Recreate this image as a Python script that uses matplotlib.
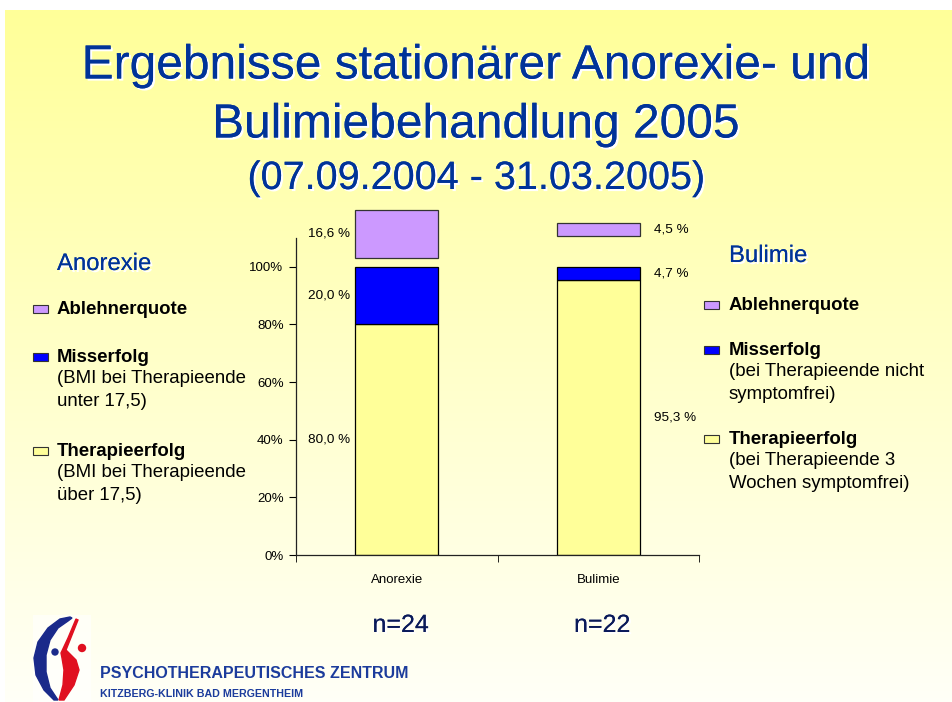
import numpy as np
import matplotlib.pyplot as plt
import matplotlib.patheffects as pe
from matplotlib.patches import Rectangle, Circle, Polygon

# Daten (Prozent)
categories = ['Anorexie', 'Bulimie']
erfolg = [80.0, 95.3]
misserfolg = [20.0, 4.7]
ablehner = [16.6, 4.5]
ablehner_gap = [3.2, 10.6]   # Abstand der Ablehnerquote über 100 %
n_counts = [24, 22]
yticks = [0, 20, 40, 60, 80, 100]

legend_names = ['Ablehnerquote', 'Misserfolg', 'Therapieerfolg']
legend_anorexie = ['', '(BMI bei Therapieende\nunter 17,5)', '(BMI bei Therapieende\nüber 17,5)']
legend_bulimie = ['', '(bei Therapieende nicht\nsymptomfrei)', '(bei Therapieende 3\nWochen symptomfrei)']

col_abl = '#CC99FF'
col_miss = '#0000FF'
col_erf = '#FFFF99'
navy = '#003399'

plt.rcParams['font.family'] = ['Liberation Sans', 'DejaVu Sans']

fig = plt.figure(figsize=(9.52, 7.02), dpi=100)

# Hintergrund: gelber Verlauf, weißer Rand oben/links
bg = fig.add_axes([0, 0, 1, 1], zorder=-10)
bg.set_xlim(0, 952)
bg.set_ylim(702, 0)
bg.axis('off')
grad = np.linspace(0, 1, 256).reshape(-1, 1)
top = np.array([1.0, 1.0, 0.6])
bottom = np.array([1.0, 1.0, 0.97])
img = top[None, None, :] * (1 - grad[:, :, None]) + bottom[None, None, :] * grad[:, :, None]
bg.imshow(img, extent=(5, 952, 702, 10), aspect='auto')

shadow = [pe.withSimplePatchShadow(offset=(1.5, -1.5), shadow_rgbFace='white', alpha=1.0), pe.Normal()]

# Titel
fig.text(0.5, 1 - 66 / 702, 'Ergebnisse stationärer Anorexie- und', ha='center', va='center',
         fontsize=34.5, color=navy, path_effects=shadow)
fig.text(0.5, 1 - 125 / 702, 'Bulimiebehandlung 2005', ha='center', va='center',
         fontsize=34.5, color=navy, path_effects=shadow)
fig.text(0.5, 1 - 178 / 702, '(07.09.2004 - 31.03.2005)', ha='center', va='center',
         fontsize=28.5, color=navy, path_effects=shadow)

# Diagramm
ax = fig.add_axes([296 / 952, 1 - 555 / 702, 403 / 952, 317 / 702])
ax.patch.set_alpha(0)
x = np.arange(len(categories))
w = 0.41
abl_bottom = [100 + g for g in ablehner_gap]
ax.bar(x, erfolg, w, color=col_erf, edgecolor='black', linewidth=0.9)
ax.bar(x, misserfolg, w, bottom=erfolg, color=col_miss, edgecolor='black', linewidth=0.9)
abl = ax.bar(x, ablehner, w, bottom=abl_bottom, color=col_abl, edgecolor='#333333', linewidth=0.9)
for p in abl:
    p.set_clip_on(False)

ax.set_xlim(-0.5, 1.5)
ax.set_ylim(0, 110)
ax.set_yticks(yticks)
ax.set_yticklabels([f'{t}%' for t in yticks], fontsize=9.5)
ax.set_xticks(x)
ax.set_xticklabels(categories, fontsize=9.5)
ax.set_xticks([-0.5, 0.5, 1.5], minor=True)
ax.tick_params(axis='x', which='major', length=0, pad=14)
ax.tick_params(axis='x', which='minor', length=5, direction='out')
ax.tick_params(axis='y', length=5, direction='out', pad=4)
for s in ['top', 'right']:
    ax.spines[s].set_visible(False)
for s in ['left', 'bottom']:
    ax.spines[s].set_color('#222222')
    ax.spines[s].set_linewidth(0.9)


def fmt(v):
    return f'{v:.1f} %'.replace('.', ',')


segs = [
    (erfolg, [e / 2 for e in erfolg]),
    (misserfolg, [e + m / 2 for e, m in zip(erfolg, misserfolg)]),
    (ablehner, [b + a / 2 for b, a in zip(abl_bottom, ablehner)]),
]
for vals, ys in segs:
    # Anorexie links vom Balken, Bulimie rechts
    ax.text(x[0] - w / 2 - 0.025, ys[0], fmt(vals[0]), ha='right', va='center', fontsize=9.7, clip_on=False)
    ax.text(x[1] + w / 2 + 0.07, ys[1], fmt(vals[1]), ha='left', va='center', fontsize=9.7, clip_on=False)

# n-Angaben
for xi, n in zip(x, n_counts):
    xf = (296 + (xi + 0.5) / 2 * 403) / 952
    fig.text(xf + 4 / 952, 1 - 625 / 702, f'n={n}', ha='center', va='center', fontsize=18,
             color='#0a1a5a', path_effects=shadow)


# Legenden
def draw_legend(x_mark, x_text, y_head, ys, head, subs):
    fig.text(x_text / 952, 1 - y_head / 702, head, ha='left', va='center', fontsize=17.2,
             color=navy, path_effects=shadow)
    for name, sub, col, yy in zip(legend_names, subs, [col_abl, col_miss, col_erf], ys):
        fig.patches.append(Rectangle((x_mark / 952, 1 - (yy + 4) / 702), 15 / 952, 8 / 702,
                                     transform=fig.transFigure, facecolor=col,
                                     edgecolor='#333333', linewidth=0.8))
        fig.text(x_text / 952, 1 - yy / 702, name, ha='left', va='center', fontsize=13.4,
                 fontweight='bold')
        if sub:
            fig.text(x_text / 952, 1 - (yy + 13) / 702, sub, ha='left', va='top', fontsize=13.4,
                     linespacing=1.45)


draw_legend(33, 57, 264, [309, 357, 451], 'Anorexie', legend_anorexie)
draw_legend(704, 729, 256, [305, 350, 439], 'Bulimie', legend_bulimie)

# Logo (vereinfacht)
bg.add_patch(Rectangle((33, 615), 58, 87, color='white', alpha=0.6, linewidth=0))
bg.add_patch(Polygon([(70, 617), (60, 619), (48, 628), (38, 642), (34, 658), (36, 675), (44, 690),
                      (54, 700), (58, 700), (50, 688), (46, 672), (46, 655), (50, 640), (58, 628),
                      (68, 621), (72, 618)], closed=True, color='#1a2a8a'))
bg.add_patch(Polygon([(76, 619), (78, 620), (70, 640), (66, 650), (76, 660), (79, 670), (74, 685),
                      (64, 700), (59, 700), (63, 685), (64, 670), (62, 658), (61, 653), (68, 638)],
                     closed=True, color='#e01020'))
bg.add_patch(Circle((55, 652), 3, color='#1a2a8a'))
bg.add_patch(Circle((82, 648), 3.5, color='#e01020'))

fig.text(100 / 952, 1 - 673 / 702, 'PSYCHOTHERAPEUTISCHES ZENTRUM', ha='left', va='center',
         fontsize=11.5, fontweight='bold', color='#1c3c9c')
fig.text(100 / 952, 1 - 694 / 702, 'KITZBERG-KLINIK BAD MERGENTHEIM', ha='left', va='center',
         fontsize=7.7, fontweight='bold', color='#1c3c9c')

fig.savefig('out.png', dpi=100)
